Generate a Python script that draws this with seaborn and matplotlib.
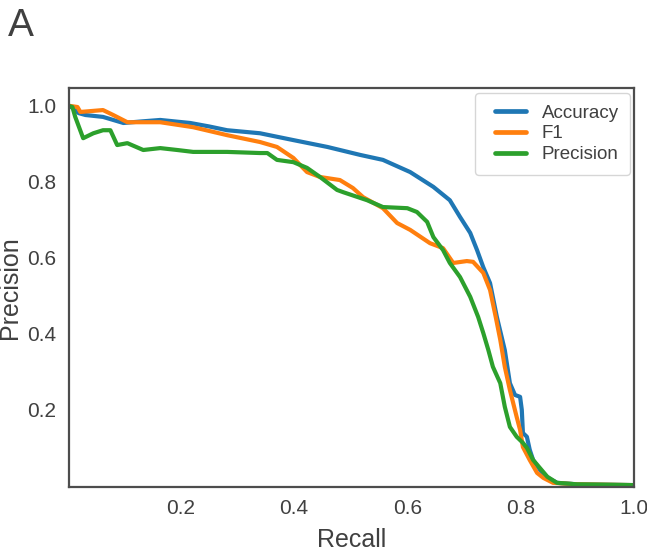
import pandas as pd
import matplotlib.pyplot as plt
import seaborn as sns
from matplotlib.lines import Line2D
from matplotlib.legend_handler import HandlerLine2D

# precision-recall curves
acc_recall = [0.0, 0.008, 0.02, 0.032, 0.063, 0.099, 0.13, 0.164, 0.217, 0.25, 0.282, 0.34, 0.399,
              0.459, 0.517, 0.557, 0.605, 0.646, 0.675, 0.693, 0.711, 0.723, 0.734, 0.746, 0.758,
              0.772, 0.781, 0.79, 0.799, 0.802, 0.804, 0.811, 0.816, 0.822, 0.835, 0.847, 0.864,
              0.9, 0.95, 1.0]
acc_prec = [1.0, 0.995, 0.98, 0.975, 0.97, 0.954, 0.958, 0.962, 0.954, 0.945, 0.935, 0.927, 0.909,
            0.891, 0.87, 0.857, 0.825, 0.786, 0.751, 0.707, 0.665, 0.62, 0.575, 0.533, 0.444,
            0.357, 0.27, 0.239, 0.234, 0.2, 0.139, 0.129, 0.095, 0.068, 0.04, 0.022, 0.008,
            0.004, 0.003, 0.002]

f1_recall = [0.0, 0.018, 0.023, 0.063, 0.081, 0.106, 0.164, 0.222, 0.282, 0.34, 0.37, 0.399, 0.423,
             0.446, 0.481, 0.504, 0.522, 0.557, 0.582, 0.605, 0.64, 0.663, 0.681, 0.705, 0.716,
             0.734, 0.746, 0.756, 0.764, 0.772, 0.781, 0.793, 0.799, 0.804, 0.816, 0.829, 0.84,
             0.857, 0.9, 0.95, 1.0]
f1_prec = [1.0, 0.996, 0.983, 0.988, 0.975, 0.956, 0.956, 0.943, 0.922, 0.904, 0.891, 0.862, 0.825,
           0.812, 0.804, 0.783, 0.759, 0.73, 0.691, 0.673, 0.638, 0.625, 0.586, 0.591, 0.589,
           0.56, 0.515, 0.444, 0.384, 0.313, 0.252, 0.181, 0.147, 0.102, 0.068, 0.034, 0.021,
           0.008, 0.004, 0.003, 0.002]

prec_recall = [0.0, 0.009, 0.014, 0.028, 0.046, 0.063, 0.076, 0.088, 0.106, 0.134, 0.164, 0.194,
               0.222, 0.282, 0.34, 0.353, 0.37, 0.399, 0.423, 0.446, 0.476, 0.487, 0.517, 0.529,
               0.557, 0.6, 0.617, 0.635, 0.646, 0.663, 0.675, 0.693, 0.711, 0.725, 0.734, 0.743,
               0.751, 0.764, 0.772, 0.781, 0.793, 0.804, 0.811, 0.822, 0.847, 0.864, 0.9, 0.95, 1.0]
prec_prec = [1.0, 0.996, 0.97, 0.914, 0.927, 0.935, 0.935, 0.896, 0.901, 0.883, 0.888, 0.883,
             0.878, 0.878, 0.875, 0.875, 0.857, 0.851, 0.836, 0.812, 0.778, 0.772, 0.757, 0.751,
             0.733, 0.73, 0.72, 0.694, 0.654, 0.62, 0.586, 0.549, 0.497, 0.444, 0.402, 0.357,
             0.313, 0.27, 0.208, 0.155, 0.129, 0.113, 0.1, 0.068, 0.024, 0.008, 0.004, 0.003, 0.002]

names = ['Accuracy', 'F1', 'Precision']

frames = []
for name, r, p in zip(names, [acc_recall, f1_recall, prec_recall], [acc_prec, f1_prec, prec_prec]):
    frames.append(pd.DataFrame({'Recall': r, 'Precision': p, 'metric': name}))
df = pd.concat(frames, ignore_index=True)

sns.set_style('white')
plt.rcParams['font.family'] = ['Liberation Sans', 'DejaVu Sans']
plt.rcParams['axes.edgecolor'] = '.3'
plt.rcParams['axes.linewidth'] = 1.6
plt.rcParams['text.color'] = '.25'
plt.rcParams['xtick.color'] = '.25'
plt.rcParams['ytick.color'] = '.25'
plt.rcParams['axes.labelcolor'] = '.25'

fig = plt.figure(figsize=(6.47, 5.51), dpi=100)
ax = fig.add_axes([69 / 647, 1 - 487 / 551, 565 / 647, 399 / 551])

sns.lineplot(data=df, x='Recall', y='Precision', hue='metric', palette='tab10',
             estimator=None, sort=False, linewidth=3.0, ax=ax)

ax.set_xlim(0.003, 1.0)
ax.set_ylim(-0.003, 1.046)
ax.set_xticks([0.2, 0.4, 0.6, 0.8, 1.0])
ax.set_yticks([0.2, 0.4, 0.6, 0.8, 1.0])
ax.tick_params(labelsize=15, pad=5.5)
ax.set_xlabel('Recall', fontsize=18, labelpad=7)
ax.set_ylabel('Precision', fontsize=18, labelpad=4)

handles, labels = ax.get_legend_handles_labels()
for h in handles:
    h.set_linewidth(3.4)
    h.set_solid_capstyle('round')
ax.legend(handles, labels, loc='upper right', fontsize=13.5, handlelength=2.1,
          handletextpad=0.85, borderpad=0.6, labelspacing=0.2, frameon=True,
          borderaxespad=0, bbox_to_anchor=(0.993, 0.987),
          handler_map={Line2D: HandlerLine2D(xpad=0.48)})

fig.text(8 / 647, 1 - 8 / 551, 'A', fontsize=28, ha='left', va='top')

fig.savefig('out.png', dpi=100)
